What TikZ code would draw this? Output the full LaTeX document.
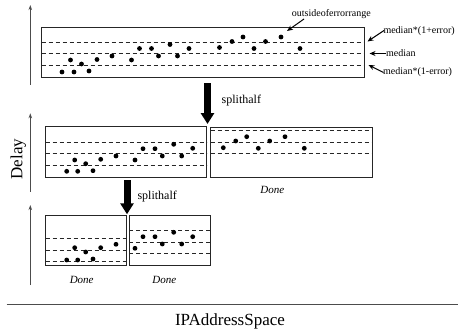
\documentclass[tikz,border=0pt]{standalone}
\usepackage{fontspec}
\setmainfont{Liberation Serif}
\usetikzlibrary{arrows.meta}
\begin{document}
\begin{tikzpicture}[x=1pt,y=-1pt,
  panel/.style={draw=black!85,line width=1pt},
  guide/.style={draw=black!85,line width=1pt,dash pattern=on 4pt off 3pt},
  sample/.style={fill=black},
  axis/.style={draw=black!70,line width=0.9pt,-{Stealth[length=5pt,width=3.5pt]}},
  split/.style={line width=7pt,-{Triangle[length=11pt,width=13pt]}},
  pointer/.style={line width=1pt,-{Stealth[length=6pt,width=5pt]}},
  note/.style={font=\fontsize{10}{12}\selectfont,inner sep=0pt,anchor=base west},
  steplabel/.style={font=\fontsize{12}{14}\selectfont,inner sep=0pt,anchor=base west},
  done/.style={font=\fontsize{11}{13}\selectfont\itshape,inner sep=0pt},
]
\useasboundingbox (0,0) rectangle (458,329);

% vertical delay axes, one per level
\coordinate (ax1b) at (30.3,85);    \coordinate (ax1t) at (30.3,5);
\coordinate (ax2b) at (30.3,191.7); \coordinate (ax2t) at (30.3,113.3);
\coordinate (ax3b) at (30.3,285);   \coordinate (ax3t) at (30.3,205);
\draw[axis] (ax1b) -- (ax1t);
\draw[axis] (ax2b) -- (ax2t);
\draw[axis] (ax3b) -- (ax3t);
\node[font=\fontsize{17}{19}\selectfont,rotate=90,inner sep=0pt] (delay) at (18.3,159.2) {Delay};

% horizontal address axis
\coordinate (ipl) at (6.7,304.3); \coordinate (ipr) at (458,304.3);
\draw[draw=black!70,line width=1.2pt] (ipl) -- (ipr);
\node[font=\fontsize{17}{19}\selectfont,inner sep=0pt,anchor=base] (ip) at (230,325) {IPAddressSpace};

% level 1: whole range
\draw[panel] (41.7,27.3) rectangle (364.3,77.3);
\foreach \y in {42.7,54,65.7} \draw[guide] (41.7,\y) -- (364.3,\y);
\foreach \x/\y in {62/72,74/72,70.5/60,81.5/64,89/71,97/59.5,112/56,131.5/60,
  139.5/48.5,151.5/48.5,158.5/56,170/44.5,177.5/56,189/48.5,219.5/47.5,
  232/41.5,243/37,254/48.5,265.5/41.5,281/37,300/48.5}
  \fill[sample] (\x,\y) circle (2.4pt);

% annotations of level 1
\node[note] (outside) at (291.7,16.7) {outsideoferrorrange};
\coordinate (outs) at (304,19);  \coordinate (outt) at (287,31);
\draw[pointer] (outs) -- (outt);
\node[note] (upper) at (383.3,33.5) {median*(1+error)};
\coordinate (ups) at (384,30.5); \coordinate (upt) at (367.5,41.5);
\draw[pointer] (ups) -- (upt);
\node[note] (mid) at (386,56.5) {median};
\coordinate (mids) at (385.5,53.5); \coordinate (midt) at (369.5,53.5);
\draw[pointer] (mids) -- (midt);
\node[note] (lower) at (383,74.5) {median*(1-error)};
\coordinate (lows) at (383.5,72.5); \coordinate (lowt) at (368.5,65);
\draw[pointer] (lows) -- (lowt);

% first split
\coordinate (s1a) at (207.5,83.5); \coordinate (s1b) at (207.5,124);
\draw[split] (s1a) -- (s1b);
\node[steplabel] (split1) at (221.5,103) {splithalf};

% level 2
\draw[panel] (45.7,126.7) rectangle (206.7,177.3);
\foreach \y in {142.3,153.7,165.7} \draw[guide] (45.7,\y) -- (206.7,\y);
\foreach \x/\y in {66.7/171.3,77.7/171.3,74.7/160,85.7/163.7,93/170.7,100.7/159.3,
  116/156,135/160,143/148.7,155/148.7,162.3/156,173.7/144.3,181.7/156,192.7/148.3}
  \fill[sample] (\x,\y) circle (2.4pt);

\draw[panel] (210.7,127.3) rectangle (372,177.3);
\foreach \y in {130.7,142.3,153.7} \draw[guide] (210.7,\y) -- (372,\y);
\foreach \x/\y in {223.3/147.7,235.7/141,246.7/136.7,258.3/148.3,269.7/141,285/136.7,304.3/148.3}
  \fill[sample] (\x,\y) circle (2.4pt);
\node[done] (done1) at (272.3,190) {Done};

% second split
\coordinate (s2a) at (127,180); \coordinate (s2b) at (127,214.3);
\draw[split] (s2a) -- (s2b);
\node[steplabel] (split2) at (137.3,199) {splithalf};

% level 3
\draw[panel] (45.7,215) rectangle (126,265.3);
\foreach \y in {238.3,250,261.7} \draw[guide] (45.7,\y) -- (126,\y);
\foreach \x/\y in {66.7/260,77.7/260,74.7/247.7,85.7/252,93/259,100.7/247.7,116/244.3}
  \fill[sample] (\x,\y) circle (2.4pt);
\node[done] (done2) at (81.7,280) {Done};

\draw[panel] (129.3,215) rectangle (210.7,265.3);
\foreach \y in {230.7,242.3,253.7} \draw[guide] (129.3,\y) -- (210.7,\y);
\foreach \x/\y in {135/248.3,143/236.7,155/236.7,162.3/244,173.7/232.3,181.7/244,192.7/236.7}
  \fill[sample] (\x,\y) circle (2.4pt);
\node[done] (done3) at (164.3,280) {Done};
\end{tikzpicture}
\end{document}
